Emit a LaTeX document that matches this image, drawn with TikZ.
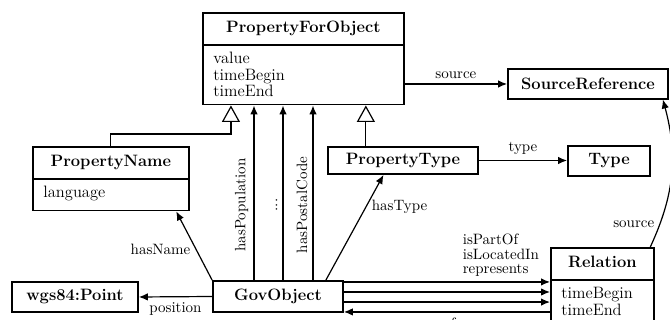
\documentclass[tikz,border=0pt]{standalone}
\usetikzlibrary{arrows.meta,shapes.multipart}

\tikzset{
  umlclass/.style={draw, very thick, rectangle split, rectangle split parts=2,
    rectangle split part align={center,left}, align=left,
    inner xsep=7pt, inner ysep=4.5pt, font=\fontsize{11}{11}\selectfont},
  umlbox/.style={draw, very thick, inner sep=4pt, minimum height=19.5pt,
    font=\fontsize{11}{11}\selectfont\bfseries},
  assoc/.style={thick, -{Latex[length=6pt,width=5pt]}},
  inherit/.style={thick, -{Triangle[open,length=11pt,width=12pt]}},
  lbl/.style={font=\fontsize{10}{9.5}\selectfont}
}

\begin{document}
\begin{tikzpicture}[x=0.667pt, y=-0.667pt]
  \clip (0,0) rectangle (670,320);

  \node [umlclass, anchor=north west, minimum width=134pt] at (202,12) (pfo)
    {\strut\textbf{PropertyForObject}\nodepart{two}value\\timeBegin\\timeEnd};
  \node [umlbox, minimum width=106.7pt] at (588,84) (srcref) {SourceReference};
  \node [umlclass, anchor=north west, minimum width=104pt] at (32,146) (pname)
    {\strut\textbf{PropertyName}\nodepart{two}\strut language};
  \node [umlbox, minimum width=100pt, minimum height=18pt] at (403,160.5) (ptype) {PropertyType};
  \node [umlbox, minimum width=54.7pt] at (609,161) (type) {Type};
  \node [umlbox, minimum width=86.7pt, minimum height=20.7pt] at (278,296.5) (gov) {GovObject};
  \node [umlbox, minimum width=84pt] at (75,297) (wgs) {wgs84:Point};
  \node [umlclass, anchor=north west, minimum width=68.7pt] at (550,247) (rel)
    {\strut\textbf{Relation}\nodepart{two}timeBegin\\timeEnd};

  \draw [assoc] (srcref.west -| pfo.east) -- node[lbl, above] {source} (srcref.west);
  \draw [inherit] (pname.north) -- ++(0,-12) -| ([xshift=-48.3pt]pfo.south);
  \coordinate (ptop) at ([xshift=41.7pt]pfo.south);
  \draw [inherit] (ptop |- ptype.north) -- (ptop);

  \draw [assoc] (gov.north -| 254,0) -- node[lbl, above, sloped, pos=0.43] {hasPopulation} (pfo.south -| 254,0);
  \draw [assoc] (gov.north -| 283,0) -- node[lbl, above, sloped, pos=0.43] {...} (pfo.south -| 283,0);
  \draw [assoc] (gov.north -| 313,0) -- node[lbl, above, sloped, pos=0.43] {hasPostalCode} (pfo.south -| 313,0);

  \draw [assoc] (gov.north west) -- node[lbl, left, pos=0.45] {hasName} ([xshift=-9pt]pname.south east);
  \draw [assoc] ([xshift=-12pt]gov.north east) -- node[lbl, right, pos=0.7] {hasType} ([xshift=-13pt]ptype.south);
  \draw [assoc] (gov.west) -- node[lbl, below] {position} (wgs.east);
  \draw [assoc] (ptype.east) -- node[lbl, above] {type} (ptype.east -| type.west);
  \draw [assoc] ([xshift=-3pt]rel.north east) to[bend right=20] node[lbl, left, pos=0.15] {source} ([xshift=-4pt]srcref.south east);

  \coordinate (r1) at ([yshift=9.7pt]gov.east);
  \coordinate (r2) at ([yshift=3pt]gov.east);
  \coordinate (r3) at ([yshift=-3.7pt]gov.east);
  \coordinate (r4) at ([yshift=-10.3pt]gov.east);
  \draw [assoc] (r1) -- node[lbl, pos=0.55, anchor=south west, align=left] {isPartOf\\isLocatedIn\\represents} (r1 -| rel.west);
  \draw [assoc] (r2) -- (r2 -| rel.west);
  \draw [assoc] (r3) -- (r3 -| rel.west);
  \draw [assoc] (r4 -| rel.west) -- node[lbl, below] {ref} (r4);
\end{tikzpicture}
\end{document}
